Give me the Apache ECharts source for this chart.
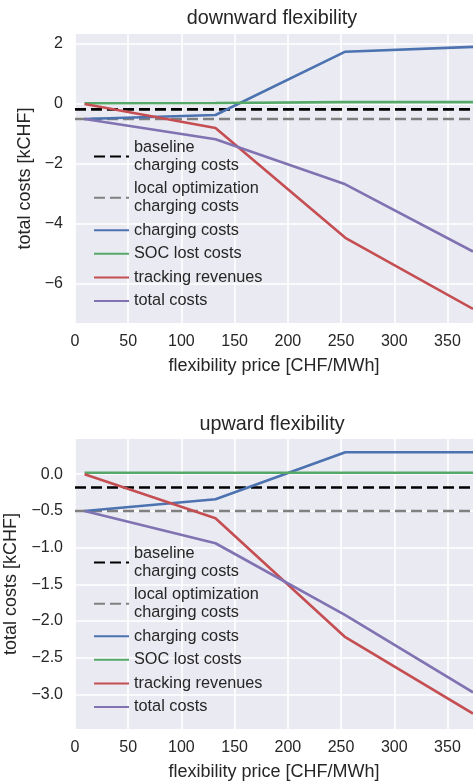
<!DOCTYPE html>
<html>
<head>
<meta charset="utf-8">
<script src="https://cdn.jsdelivr.net/npm/echarts@6/dist/echarts.min.js"></script>
<style>
html,body{margin:0;padding:0;background:#fff;}
#c{width:473px;height:781px;}
</style>
</head>
<body>
<div id="c"></div>
<script>
// ---- data ----
const xPrices = [9, 132, 254, 374];
const xLineEnds = [0, 374];
const xTicks = [0, 50, 100, 150, 200, 250, 300, 350];

// downward flexibility
const downBaseline = -0.18;
const downLocalOpt = -0.5;
const downCharging = [-0.5, -0.37, 1.74, 1.9];
const downSoc = [0.02, 0.03, 0.06, 0.06];
const downTracking = [0.0, -0.8, -4.46, -6.83];
const downTotal = [-0.5, -1.18, -2.68, -4.92];
const downYTicks = [-6, -4, -2, 0, 2];

// upward flexibility
const upBaseline = -0.18;
const upLocalOpt = -0.5;
const upCharging = [-0.5, -0.34, 0.30, 0.30];
const upSoc = [0.02, 0.02, 0.02, 0.02];
const upTracking = [0.0, -0.6, -2.22, -3.26];
const upTotal = [-0.5, -0.94, -1.92, -2.97];
const upYTicks = [-3.0, -2.5, -2.0, -1.5, -1.0, -0.5, 0.0];

const names = ['baseline\ncharging costs', 'local optimization\ncharging costs', 'charging costs', 'SOC lost costs', 'tracking revenues', 'total costs'];
const colors = ['#000000', '#808080', '#4C72B0', '#55A868', '#C44E52', '#8172B2'];

// ---- build ----
const FONT = 'Liberation Sans, Arial, sans-serif';
const TXT = '#262626';
const zip = (xs, ys) => xs.map((x, i) => [x, ys[i]]);
const minus = s => String(s).replace('-', '\u2212');

function series(gi, baseline, localOpt, charging, soc, tracking, total) {
  const common = { type: 'line', xAxisIndex: gi, yAxisIndex: gi, symbol: 'none', showSymbol: false, animation: false, clip: true };
  const sets = [
    zip(xLineEnds, [baseline, baseline]),
    zip(xLineEnds, [localOpt, localOpt]),
    zip(xPrices, charging),
    zip(xPrices, soc),
    zip(xPrices, tracking),
    zip(xPrices, total)
  ];
  return sets.map((d, i) => Object.assign({}, common, {
    name: names[i],
    data: d,
    itemStyle: { color: colors[i] },
    lineStyle: { color: colors[i], width: 2.6, type: i < 2 ? [11, 5] : 'solid' }
  }));
}

function xAxis(gi) {
  return {
    gridIndex: gi, type: 'value', min: 0, max: 374,
    name: 'flexibility price [CHF/MWh]', nameLocation: 'middle', nameGap: 34,
    nameTextStyle: { fontFamily: FONT, fontSize: 18, color: TXT },
    axisLine: { show: false }, axisTick: { show: false, customValues: xTicks },
    axisLabel: { customValues: xTicks, fontFamily: FONT, fontSize: 16, color: TXT, margin: 11 },
    splitLine: { show: true, lineStyle: { color: '#ffffff', width: 1.6 } }
  };
}
function yAxis(gi, min, max, ticks, fmt, gap) {
  return {
    gridIndex: gi, type: 'value', min: min, max: max,
    name: 'total costs [kCHF]', nameLocation: 'middle', nameGap: gap,
    nameTextStyle: { fontFamily: FONT, fontSize: 18, color: TXT },
    axisLine: { show: false }, axisTick: { show: false, customValues: ticks },
    axisLabel: { customValues: ticks, fontFamily: FONT, fontSize: 16, color: TXT, margin: 12, formatter: fmt },
    splitLine: { show: true, lineStyle: { color: '#ffffff', width: 1.6 } }
  };
}
function legend(gi, top) {
  return {
    orient: 'vertical', left: 88, top: top, itemWidth: 35, itemHeight: 12, itemGap: 6,
    data: names,
    textStyle: { fontFamily: FONT, fontSize: 16.3, color: TXT, lineHeight: 17.6 },
    selectedMode: false,
    itemStyle: { opacity: 0 }
  };
}

const chart = echarts.init(document.getElementById('c'), null, { renderer: 'canvas' });
const option = {
  backgroundColor: '#ffffff',
  animation: false,
  title: [
    { text: 'downward flexibility', left: 267, top: 4, textAlign: 'center', textStyle: { fontFamily: FONT, fontSize: 19.8, fontWeight: 'normal', color: TXT } },
    { text: 'upward flexibility', left: 267, top: 410, textAlign: 'center', textStyle: { fontFamily: FONT, fontSize: 19.8, fontWeight: 'normal', color: TXT } }
  ],
  grid: [
    { left: 75, top: 34, width: 398, height: 289, backgroundColor: '#EAEAF2', show: true, borderWidth: 0, outerBoundsMode: 'none', containLabel: false },
    { left: 75, top: 439, width: 398, height: 290, backgroundColor: '#EAEAF2', show: true, borderWidth: 0, outerBoundsMode: 'none', containLabel: false }
  ],
  xAxis: [xAxis(0), xAxis(1)],
  yAxis: [
    yAxis(0, -7.3, 2.33, downYTicks, v => minus(Math.round(v)), 37),
    yAxis(1, -3.47, 0.48, upYTicks, v => minus(v.toFixed(1)), 47)
  ],
  legend: [
    Object.assign(legend(0, 134), { id: 'l0' }),
    Object.assign(legend(1, 540), { id: 'l1' })
  ],
  series: series(0, downBaseline, downLocalOpt, downCharging, downSoc, downTracking, downTotal)
    .concat(series(1, upBaseline, upLocalOpt, upCharging, upSoc, upTracking, upTotal))
};
chart.setOption(option);
</script>
</body>
</html>
